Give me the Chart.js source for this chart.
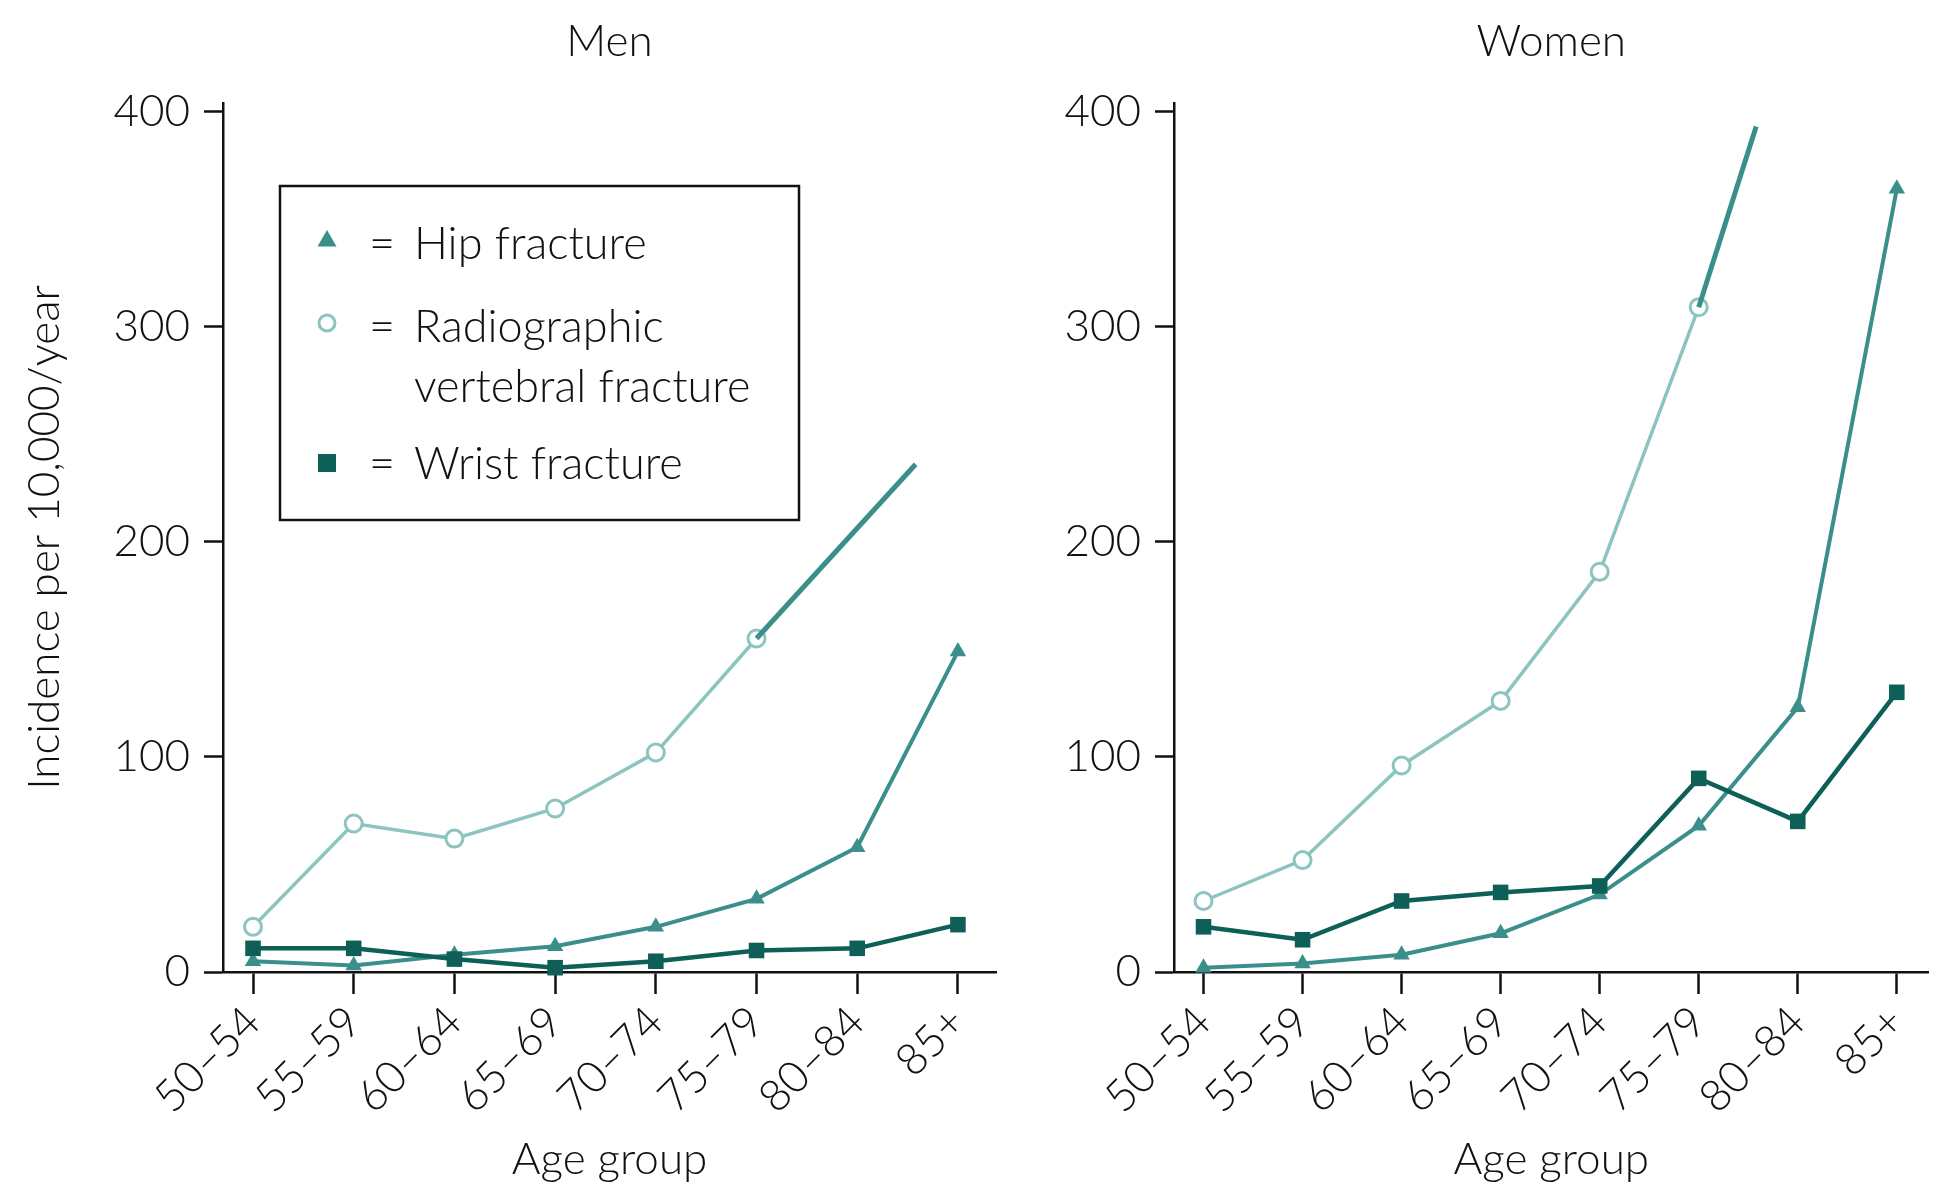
<!DOCTYPE html>
<html>
<head>
<meta charset="utf-8">
<script src="https://cdn.jsdelivr.net/npm/chart.js@4.4.1/dist/chart.umd.min.js"></script>
<style>
html,body{margin:0;padding:0;background:#fff;}
#wrap{position:relative;width:1940px;height:1186px;overflow:hidden;background:#fff}
.panel{position:absolute;top:0;height:1186px}
</style>
</head>
<body>
<div id="wrap">
  <div class="panel" style="left:0;width:1010px"><canvas id="men"></canvas></div>
  <div class="panel" style="left:1010px;width:930px"><canvas id="women"></canvas></div>
</div>
<script>
// ---------- data ----------
const ageGroups = ['50–54', '55–59', '60–64', '65–69', '70–74', '75–79', '80–84', '85+'];
const yTickValues = [0, 100, 200, 300, 400];

const menHip        = [5, 3, 8, 12, 21, 34, 58, 149];
const menVertebral  = [21, 69, 62, 76, 102, 155];
const menWrist      = [11, 11, 6, 2, 5, 10, 11, 22];
const menVertExtX   = [5, 6.58];     // continuation of vertebral line (category index)
const menVertExtY   = [155, 236];

const womenHip       = [2, 4, 8, 18, 36, 68, 123, 364];
const womenVertebral = [33, 52, 96, 126, 186, 309];
const womenWrist     = [21, 15, 33, 37, 40, 90, 70, 130];
const womenVertExtX  = [5, 5.58];
const womenVertExtY  = [309, 393];

const legendLabels = [['Hip fracture'], ['Radiographic', 'vertebral fracture'], ['Wrist fracture']];

// ---------- styles ----------
const C_HIP = '#3a8f8b';
const C_VERT = '#8cc4bf';
const C_WRIST = '#0d5f57';
const INK = '#111';
const FAMILY = 'Lato, "Open Sans", "Liberation Sans", sans-serif';
const FONT = { family: FAMILY, size: 44, weight: 300 };
const LEGEND_FONT = { family: FAMILY, size: 45, weight: 300 };

const toPts = vals => vals.map((v, i) => ({ x: i, y: v }));
const toXY = (xs, ys) => xs.map((x, i) => ({ x: x, y: ys[i] }));

const boxLegend = {
  id: 'boxLegend',
  afterDatasetsDraw(chart, args, o) {
    if (!o || !o.display) return;
    const ctx = chart.ctx;
    ctx.save();
    ctx.lineWidth = 2.5;
    ctx.strokeStyle = INK;
    ctx.strokeRect(o.x, o.y, o.w, o.h);
    ctx.font = `${LEGEND_FONT.weight} ${LEGEND_FONT.size}px ${FAMILY}`;
    ctx.textBaseline = 'alphabetic';
    ctx.textAlign = 'left';
    o.items.forEach((it, k) => {
      ctx.beginPath();
      if (it.style === 'triangle') {
        const r = it.r;
        ctx.moveTo(o.markerX, it.my - r);
        ctx.lineTo(o.markerX + r * Math.sin(2 * Math.PI / 3), it.my - r * Math.cos(2 * Math.PI / 3));
        ctx.lineTo(o.markerX + r * Math.sin(4 * Math.PI / 3), it.my - r * Math.cos(4 * Math.PI / 3));
        ctx.closePath();
        ctx.fillStyle = it.color; ctx.fill();
      } else if (it.style === 'circle') {
        ctx.arc(o.markerX, it.my, it.r, 0, Math.PI * 2);
        ctx.fillStyle = '#fff'; ctx.fill();
        ctx.lineWidth = 3; ctx.strokeStyle = it.color; ctx.stroke();
      } else {
        ctx.rect(o.markerX - it.r, it.my - it.r, it.r * 2, it.r * 2);
        ctx.fillStyle = it.color; ctx.fill();
      }
      ctx.fillStyle = INK;
      ctx.fillText('=', o.eqX, it.baselines[0]);
      legendLabels[k].forEach((line, j) => ctx.fillText(line, o.textX, it.baselines[j]));
    });
    ctx.restore();
  }
};

function makeChart(id, title, hip, vert, wrist, extX, extY, cfg) {
  const datasets = [
    { label: 'ext', data: toXY(extX, extY), borderColor: C_HIP, borderWidth: 5, pointRadius: 0, tension: 0 },
    { label: 'Wrist fracture', data: toPts(wrist), borderColor: C_WRIST, backgroundColor: C_WRIST,
      borderWidth: 4.5, pointStyle: 'rect', pointRadius: 11, pointBorderWidth: 0, tension: 0 },
    { label: 'Hip fracture', data: toPts(hip), borderColor: C_HIP, backgroundColor: C_HIP,
      borderWidth: 4, pointStyle: 'triangle', pointRadius: 9.5, pointBorderWidth: 0, tension: 0 },
    { label: 'Radiographic vertebral fracture', data: toPts(vert), borderColor: C_VERT, backgroundColor: '#fff',
      borderWidth: 3.5, pointStyle: 'circle', pointRadius: 8.5, pointBorderWidth: 3, tension: 0 }
  ];
  datasets.forEach(d => { d.clip = false; d.fill = false; });
  return new Chart(document.getElementById(id), {
    type: 'line',
    data: { datasets },
    plugins: [boxLegend],
    options: {
      responsive: true,
      maintainAspectRatio: false,
      animation: false,
      events: [],
      layout: { padding: { left: 0, right: cfg.padRight, top: 0, bottom: 0 } },
      plugins: {
        legend: { display: false },
        tooltip: { enabled: false },
        title: { display: true, text: title, color: INK, font: FONT, fullSize: false,
                 padding: { top: 15, bottom: 35 } },
        boxLegend: cfg.legend || { display: false }
      },
      scales: {
        x: {
          type: 'linear', min: cfg.xMin, max: cfg.xMax,
          afterBuildTicks: s => { s.ticks = ageGroups.map((_, i) => ({ value: i })); },
          afterFit: s => { s.height = 214; },
          grid: { drawOnChartArea: false, drawTicks: true, tickLength: 22, tickWidth: 2.5, color: INK },
          border: { display: true, color: INK, width: 2.5 },
          ticks: { autoSkip: false, maxRotation: 45, minRotation: 45, padding: 2, color: INK, font: FONT,
                   callback: v => ageGroups[Math.round(v)] },
          title: { display: true, text: 'Age group', color: INK, font: FONT, padding: { top: 0, bottom: 0 } }
        },
        y: {
          min: 0, max: 404,
          afterBuildTicks: s => { s.ticks = yTickValues.map(v => ({ value: v })); },
          afterFit: s => { s.width = cfg.yWidth; },
          grid: { drawOnChartArea: false, drawTicks: true, tickLength: 19, tickWidth: 2.5, color: INK },
          border: { display: true, color: INK, width: 2.5 },
          ticks: { padding: 14, color: INK, font: FONT },
          title: { display: cfg.yTitle, text: 'Incidence per 10,000/year', color: INK, font: FONT,
                   padding: { top: 18, bottom: 0 } }
        }
      }
    }
  });
}

makeChart('men', 'Men', menHip, menVertebral, menWrist, menVertExtX, menVertExtY, {
  xMin: -0.298, xMax: 7.378, yWidth: 223, yTitle: true, padRight: 14,
  legend: {
    display: true, x: 280, y: 186, w: 519, h: 334, markerX: 327, eqX: 369, textX: 414,
    items: [
      { style: 'triangle', color: C_HIP, r: 11, my: 241, baselines: [259] },
      { style: 'circle', color: C_VERT, r: 8, my: 323, baselines: [342, 402] },
      { style: 'square', color: C_WRIST, r: 9, my: 463, baselines: [479] }
    ]
  }
});
makeChart('women', 'Women', womenHip, womenVertebral, womenWrist, womenVertExtX, womenVertExtY, {
  xMin: -0.298, xMax: 7.32, yWidth: 164, yTitle: false, padRight: 0
});
</script>
</body>
</html>
